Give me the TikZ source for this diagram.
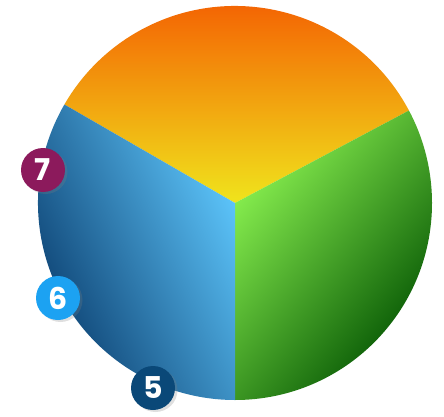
\documentclass[tikz,border=0pt]{standalone}
\usepackage{fontspec}
\setsansfont{Poppins}
\usetikzlibrary{shadows}
\definecolor{orTop}{HTML}{F45400}
\definecolor{orBot}{HTML}{F0E41C}
\definecolor{grLight}{HTML}{8AF250}
\definecolor{grDark}{HTML}{005000}
\definecolor{blLight}{HTML}{5CC4FA}
\definecolor{blDark}{HTML}{023060}
\definecolor{bSeven}{HTML}{8C1A5C}
\definecolor{bSix}{HTML}{1CA2F2}
\definecolor{bFive}{HTML}{0A4878}
\tikzset{
  badge/.style={circle, minimum size=44pt, inner sep=0pt, text=white,
    font=\sffamily\bfseries\fontsize{30}{30}\selectfont,
    drop shadow={opacity=0.25, shadow xshift=2.5pt, shadow yshift=-2pt}},
}
\begin{document}
\begin{tikzpicture}[x=1pt,y=1pt]
\useasboundingbox (0,0) rectangle (444,416);
\coordinate (c) at (235,213);
\def\R{197}
% orange top
\shade[top color=orTop, bottom color=orBot]
  (c) -- ++(28:\R) arc[start angle=28, end angle=150, radius=\R] -- cycle;
% green right
\shade[top color=grLight, bottom color=grDark, shading angle=50]
  (c) -- ++(270:\R) arc[start angle=270, end angle=388, radius=\R] -- cycle;
% blue left
\shade[top color=blLight, bottom color=blDark, shading angle=-65]
  (c) -- ++(150:\R) arc[start angle=150, end angle=270, radius=\R] -- cycle;
% badges
\node[badge, fill=bSeven] (b7) at (43,246) {7};
\node[badge, fill=bSix] (b6) at (58,118) {6};
\node[badge, fill=bFive] (b5) at (153,28) {5};
\end{tikzpicture}
\end{document}
